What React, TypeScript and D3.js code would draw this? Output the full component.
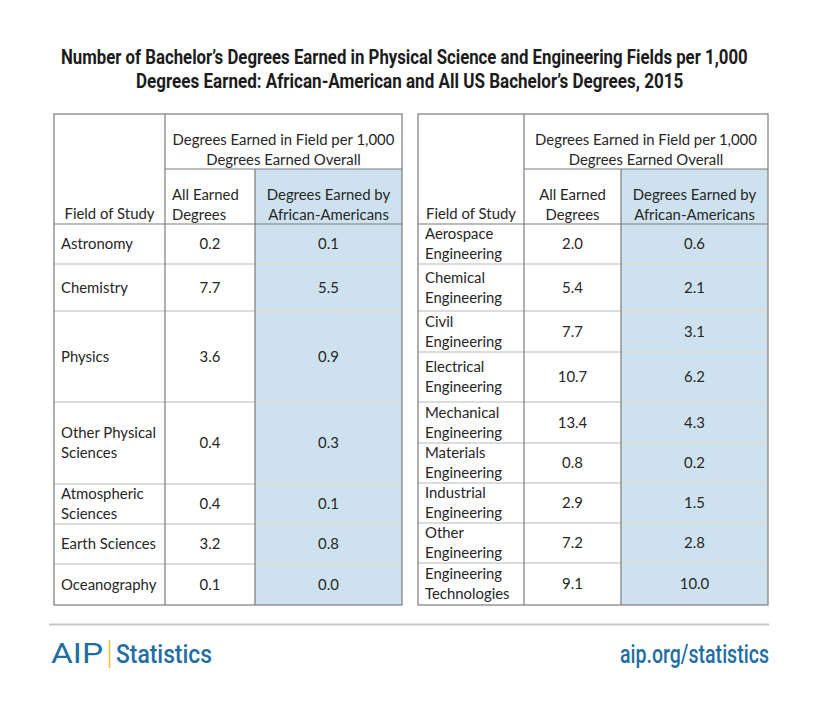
import React, { useLayoutEffect, useRef, useState } from "react";
import * as d3 from "d3";

const TITLE_LINES = [
  "Number of Bachelor\u2019s Degrees Earned in Physical Science and Engineering Fields per 1,000",
  "Degrees Earned: African-American and All US Bachelor\u2019s Degrees, 2015",
];

const HEADER_GROUP = ["Degrees Earned in Field per 1,000", "Degrees Earned Overall"];
const HEADER_FIELD = "Field of Study";
const HEADER_ALL = ["All Earned", "Degrees"];
const HEADER_AA = ["Degrees Earned by", "African-Americans"];

const leftFields = [
  ["Astronomy"],
  ["Chemistry"],
  ["Physics"],
  ["Other Physical", "Sciences"],
  ["Atmospheric", "Sciences"],
  ["Earth Sciences"],
  ["Oceanography"],
];
const leftAll = [0.2, 7.7, 3.6, 0.4, 0.4, 3.2, 0.1];
const leftAA = [0.1, 5.5, 0.9, 0.3, 0.1, 0.8, 0.0];

const rightFields = [
  ["Aerospace", "Engineering"],
  ["Chemical", "Engineering"],
  ["Civil", "Engineering"],
  ["Electrical", "Engineering"],
  ["Mechanical", "Engineering"],
  ["Materials", "Engineering"],
  ["Industrial", "Engineering"],
  ["Other", "Engineering"],
  ["Engineering", "Technologies"],
];
const rightAll = [2.0, 5.4, 7.7, 10.7, 13.4, 0.8, 2.9, 7.2, 9.1];
const rightAA = [0.6, 2.1, 3.1, 6.2, 4.3, 0.2, 1.5, 2.8, 10.0];

// layout (row heights in px)
const leftRowH = [40, 47, 91, 82, 40, 40, 41];
const rightRowH = [40, 47, 41, 50, 41, 40, 40, 40, 42];

const BORDER = "#7b7b7b";
const ROWLINE = "#dcdcdc";
const BLUE = "#cde2ee";
const TXT = "#262626";
const FONT = "Lato, 'Open Sans', sans-serif";

type FitProps = {
  x: number;
  y: number;
  width: number;
  anchor?: "start" | "end";
  children: string;
  [k: string]: any;
};

// Text condensed horizontally to a target width (the reference uses a condensed face)
function FitText({ x, y, width, anchor = "start", children, ...rest }: FitProps) {
  const ref = useRef<SVGTextElement>(null);
  const [sx, setSx] = useState(1);
  useLayoutEffect(() => {
    if (ref.current) {
      const w = ref.current.getComputedTextLength();
      if (w > 0) setSx(width / w);
    }
  }, [width, children]);
  const x0 = anchor === "end" ? x - width : x;
  return (
    <g transform={`translate(${x0},${y}) scale(${sx},1)`}>
      <text ref={ref} x={0} y={0} {...rest}>{children}</text>
    </g>
  );
}

type TableProps = {
  x0: number;
  c1: number;
  c2: number;
  x1: number;
  fields: string[][];
  all: number[];
  aa: number[];
  rowH: number[];
  leftAlignAll: boolean;
};

function Table({ x0, c1, c2, x1, fields, all, aa, rowH, leftAlignAll }: TableProps) {
  const top = 114;
  const midH = 169;
  const headBottom = 224;
  const cum = [0, ...d3.cumsum(rowH)];
  const total = cum[cum.length - 1];
  const y = d3.scaleLinear().domain([0, total]).range([headBottom, headBottom + total]);
  const bottom = y(total);
  const fmt = d3.format(".1f");
  const fs = 14.9;
  return (
    <g fontFamily={FONT} fontSize={fs} fill={TXT}>
      <rect x={c2} y={midH} width={x1 - c2} height={bottom - midH} fill={BLUE} />
      {cum.slice(1, -1).map((v, i) => (
        <line key={i} x1={x0} x2={x1} y1={y(v)} y2={y(v)} stroke={ROWLINE} strokeWidth={2} />
      ))}
      <line x1={c1} x2={x1} y1={midH} y2={midH} stroke={BORDER} strokeWidth={1.2} />
      <line x1={x0} x2={x1} y1={headBottom} y2={headBottom} stroke={BORDER} strokeWidth={1.2} />
      <line x1={c1} x2={c1} y1={top} y2={bottom} stroke={BORDER} strokeWidth={1.2} />
      <line x1={c2} x2={c2} y1={midH} y2={bottom} stroke={BORDER} strokeWidth={1.2} />
      <rect x={x0} y={top} width={x1 - x0} height={bottom - top} fill="none" stroke={BORDER} strokeWidth={1.2} />
      {HEADER_GROUP.map((t, i) => (
        <text key={t} x={(c1 + x1) / 2} y={145 + i * 19.5} textAnchor="middle">{t}</text>
      ))}
      <text x={(x0 + c1) / 2} y={219} textAnchor="middle">{HEADER_FIELD}</text>
      {HEADER_ALL.map((t, i) => (
        <text key={t} x={leftAlignAll ? c1 + 7 : (c1 + c2) / 2} y={200 + i * 19.5} textAnchor={leftAlignAll ? "start" : "middle"}>{t}</text>
      ))}
      {HEADER_AA.map((t, i) => (
        <text key={t} x={(c2 + x1) / 2} y={200 + i * 19.5} textAnchor="middle">{t}</text>
      ))}
      {fields.map((lines, i) => {
        const cy = y((cum[i] + cum[i + 1]) / 2);
        return (
          <g key={i}>
            {lines.map((l, j) => (
              <text key={j} x={x0 + 7} y={cy + 5 + (j - (lines.length - 1) / 2) * 20}>{l}</text>
            ))}
            <text x={(c1 + c2) / 2} y={cy + 5} textAnchor="middle">{fmt(all[i])}</text>
            <text x={(c2 + x1) / 2} y={cy + 5} textAnchor="middle">{fmt(aa[i])}</text>
          </g>
        );
      })}
    </g>
  );
}

export default function App() {
  const titleFont = { fontFamily: "Roboto, 'Liberation Sans', sans-serif", fontWeight: 700, fontSize: 19.5, fill: "#1c1c1c" };
  const footFont = { fontFamily: "Roboto, sans-serif", fontSize: 26, fontWeight: 500, fill: "#1f6ea3" };
  return (
    <svg width={820} height={705} style={{ position: "absolute", left: 0, top: 0, background: "#fff" }}>
      <rect width={820} height={705} fill="#fff" />
      <FitText x={61} y={64} width={687} {...titleFont}>{TITLE_LINES[0]}</FitText>
      <FitText x={136} y={88} width={548} {...titleFont}>{TITLE_LINES[1]}</FitText>
      <Table x0={54} c1={165} c2={255} x1={402} fields={leftFields} all={leftAll} aa={leftAA} rowH={leftRowH} leftAlignAll={true} />
      <Table x0={418} c1={524} c2={621} x1={768} fields={rightFields} all={rightAll} aa={rightAA} rowH={rightRowH} leftAlignAll={false} />
      <line x1={49} x2={769} y1={624.5} y2={624.5} stroke="#c8c8c8" strokeWidth={2} />
      <FitText x={51} y={663} width={52} fontFamily="Roboto, sans-serif" fontSize={27} fontWeight={400} fill="#1f6ea3">AIP</FitText>
      <line x1={109.5} x2={109.5} y1={640} y2={668} stroke="#f2c230" strokeWidth={1.5} />
      <FitText x={116} y={663} width={96} {...footFont}>Statistics</FitText>
      <FitText x={769} y={663} width={149} anchor="end" {...footFont}>aip.org/statistics</FitText>
    </svg>
  );
}
